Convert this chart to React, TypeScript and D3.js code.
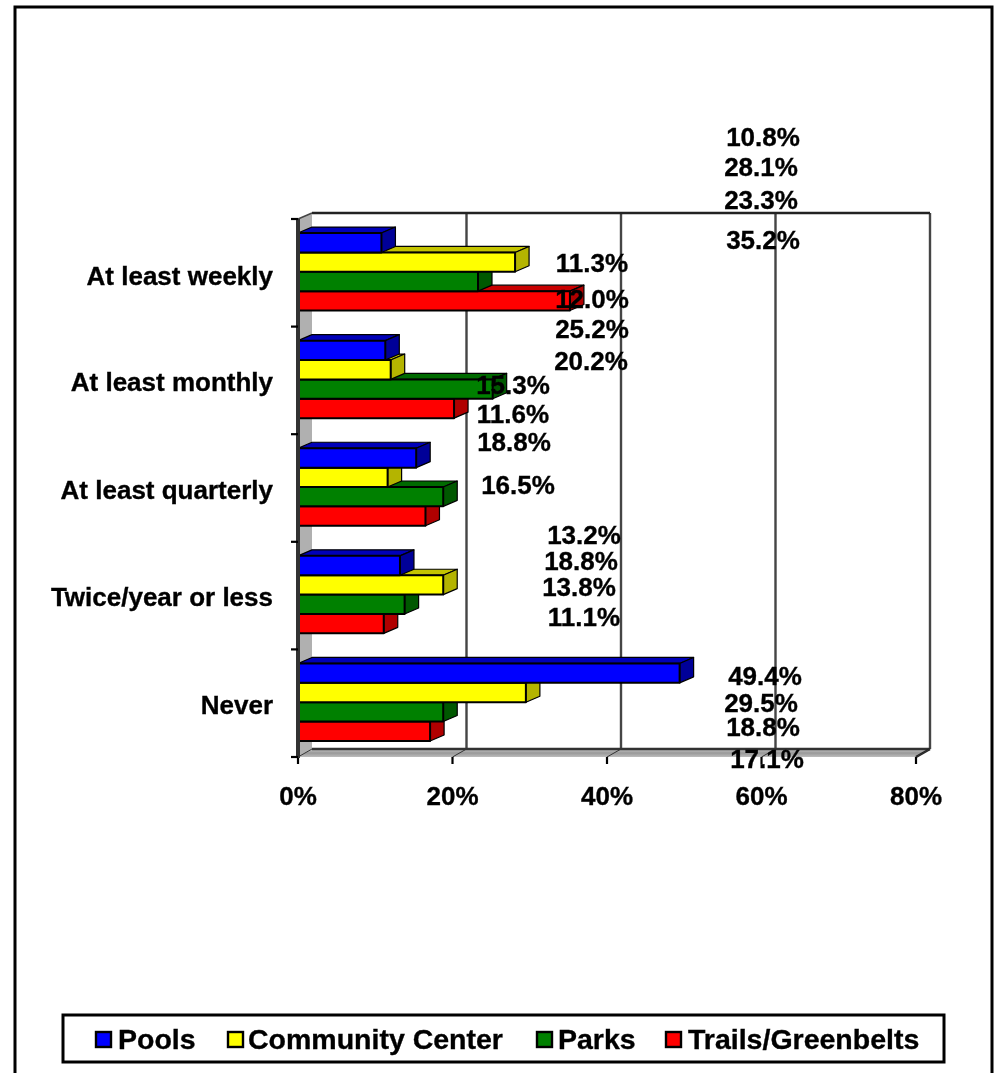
import React from "react";
import * as d3 from "d3";

const categories = ["At least weekly", "At least monthly", "At least quarterly", "Twice/year or less", "Never"];
const seriesNames = ["Pools", "Community Center", "Parks", "Trails/Greenbelts"];
const pools = [10.8, 11.3, 15.3, 13.2, 49.4];
const communityCenter = [28.1, 12.0, 11.6, 18.8, 29.5];
const parks = [23.3, 25.2, 18.8, 13.8, 18.8];
const trails = [35.2, 20.2, 16.5, 11.1, 17.1];
const seriesValues = [pools, communityCenter, parks, trails];
const xTicks = [0, 20, 40, 60, 80];

const frontColors = ["#0000ff", "#ffff00", "#008000", "#ff0000"];
const sideColors = ["#000098", "#b4b400", "#005800", "#b00000"];
const topColors = ["#0000b8", "#c4c400", "#006a00", "#c80000"];

// hand-placed label centres of the original chart (series by category)
const labelCentres: [number, number][][] = [
  [[763, 137], [761, 167], [761, 200], [763, 240]],
  [[592, 263], [592, 299], [592, 329], [591, 361]],
  [[513, 385], [513, 414], [514, 442], [518, 485]],
  [[584, 535], [581, 561], [579, 587], [584, 617]],
  [[765, 676], [761, 703], [763, 727], [767, 759]],
];
const categoryLabelY = [276, 382, 490, 597, 705];
const legendSwatchX = [96, 228, 537, 666];
const legendTextX = [118, 248, 558, 688];

const DX = 14;
const DY = -8;
const BAR_DY = -6;
const FONT = "'Liberation Sans', Arial, sans-serif";

export default function App() {
  const x = d3.scaleLinear().domain([0, 80]).range([298, 916]);
  const y = d3.scaleBand<string>().domain(categories).range([218, 756]).paddingInner(0.28).paddingOuter(0.14);
  const inner = d3.scaleBand<string>().domain(seriesNames).range([0, y.bandwidth()]);
  const top = 219;
  const bottom = 757;
  const tickY = d3.range(categories.length + 1).map((i) => top + (i * (bottom - top)) / categories.length);
  const textBold = { stroke: "#000", strokeWidth: 0.35 };

  return (
    <svg
      width={1000}
      height={1073}
      style={{ position: "absolute", left: 0, top: 0, background: "#fff" }}
      fontFamily={FONT}
      fontWeight="bold"
    >
      <defs>
        <linearGradient id="floor" x1="0" y1="0" x2="0" y2="1">
          <stop offset="0" stopColor="#c8c8c8" />
          <stop offset="0.5" stopColor="#989898" />
          <stop offset="1" stopColor="#bcbcbc" />
        </linearGradient>
        <filter id="soft" x="-2%" y="-2%" width="104%" height="104%">
          <feGaussianBlur stdDeviation="0.5" />
        </filter>
      </defs>

      <g filter="url(#soft)">
        <path d="M15,1073V7H992V1073" fill="none" stroke="#000" strokeWidth={3} />

        {/* walls */}
        <polygon points={`${x(0)},${top} ${x(0) + DX},${top + DY + 2} ${x(0) + DX},${bottom + DY} ${x(0)},${bottom}`} fill="#b0b0b0" />
        <polygon
          points={`${x(0)},${bottom} ${x(0) + DX},${bottom + DY} ${x(80) + DX},${bottom + DY} ${x(80)},${bottom}`}
          fill="url(#floor)"
        />
        {xTicks.slice(1).map((t) => (
          <line key={t} x1={x(t) + DX} x2={x(t) + DX} y1={top + DY + 2} y2={bottom + DY} stroke="#444" strokeWidth={2.4} />
        ))}
        <line x1={x(0) + DX} x2={x(80) + DX} y1={top + DY + 2} y2={top + DY + 2} stroke="#222" strokeWidth={2.4} />
        <line x1={x(0) + DX} x2={x(80) + DX} y1={bottom + DY} y2={bottom + DY} stroke="#333" strokeWidth={2.4} />
        <line x1={x(0)} x2={x(0) + DX} y1={top} y2={top + DY + 2} stroke="#444" strokeWidth={1.5} />
        <line x1={x(80)} x2={x(80) + DX} y1={bottom} y2={bottom + DY} stroke="#222" strokeWidth={2.4} />
        {xTicks.map((t) => (
          <g key={t}>
            <line x1={x(t)} x2={x(t) + DX} y1={bottom} y2={bottom + DY} stroke="#333" strokeWidth={1} />
            <line x1={x(t)} x2={x(t)} y1={bottom} y2={bottom + 7} stroke="#000" strokeWidth={2.2} />
          </g>
        ))}

        {/* bars: drawn from the bottom series up so upper fronts hide lower tops */}
        {categories.map((cat, ci) => (
          <g key={cat}>
            {[3, 2, 1, 0].map((si) => {
              const v = seriesValues[si][ci];
              const x0 = x(0);
              const x1 = x(v);
              const y0 = (y(cat) as number) + (inner(seriesNames[si]) as number);
              const h = inner.bandwidth();
              return (
                <g key={si} stroke="#000" strokeLinejoin="round">
                  <polygon
                    points={`${x0},${y0} ${x0 + DX},${y0 + BAR_DY} ${x1 + DX},${y0 + BAR_DY} ${x1},${y0}`}
                    fill={topColors[si]}
                    strokeWidth={1.2}
                  />
                  <polygon
                    points={`${x1},${y0} ${x1 + DX},${y0 + BAR_DY} ${x1 + DX},${y0 + h + BAR_DY} ${x1},${y0 + h}`}
                    fill={sideColors[si]}
                    strokeWidth={1.2}
                  />
                  <rect x={x0} y={y0} width={x1 - x0} height={h} fill={frontColors[si]} strokeWidth={2} />
                </g>
              );
            })}
          </g>
        ))}

        {/* axis */}
        <line x1={x(0)} x2={x(0)} y1={top} y2={bottom + 1} stroke="#333" strokeWidth={4} />
        {tickY.map((t) => (
          <line key={t} x1={x(0) - 7} x2={x(0)} y1={t} y2={t} stroke="#000" strokeWidth={2.2} />
        ))}

        {/* category labels */}
        {categories.map((cat, ci) => (
          <text key={cat} x={273} y={categoryLabelY[ci]} dy="0.35em" textAnchor="end" fontSize={26} {...textBold}>
            {cat}
          </text>
        ))}

        {/* axis labels */}
        {xTicks.map((t) => (
          <text key={t} x={x(t)} y={805} textAnchor="middle" fontSize={26} {...textBold}>
            {t}%
          </text>
        ))}

        {/* value labels */}
        {categories.map((cat, ci) =>
          seriesNames.map((s, si) => (
            <text
              key={cat + s}
              x={labelCentres[ci][si][0]}
              y={labelCentres[ci][si][1]}
              dy="0.35em"
              textAnchor="middle"
              fontSize={26}
              {...textBold}
            >
              {seriesValues[si][ci].toFixed(1)}%
            </text>
          ))
        )}

        {/* legend */}
        <rect x={63} y={1015} width={881} height={47} fill="none" stroke="#000" strokeWidth={3} />
        {seriesNames.map((s, i) => (
          <g key={s}>
            <rect x={legendSwatchX[i]} y={1032} width={15} height={15} fill={frontColors[i]} stroke="#000" strokeWidth={2.4} />
            <text x={legendTextX[i]} y={1049} fontSize={28.5} {...textBold}>
              {s}
            </text>
          </g>
        ))}
      </g>
    </svg>
  );
}
